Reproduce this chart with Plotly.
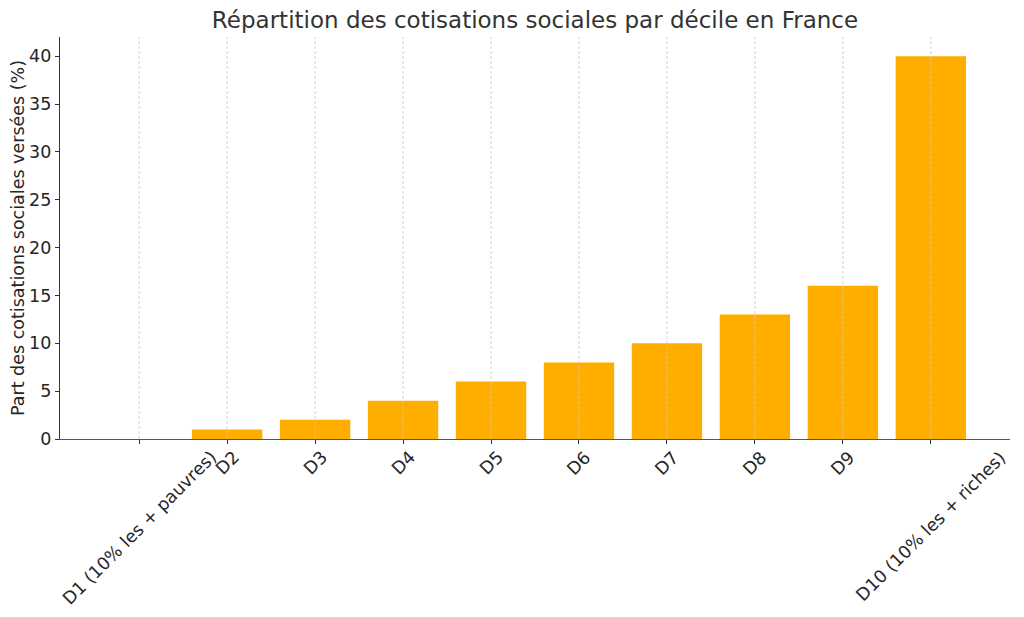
import plotly.graph_objects as go

categories = ["D1 (10% les + pauvres)", "D2", "D3", "D4", "D5", "D6", "D7", "D8", "D9", "D10 (10% les + riches)"]
values = [0, 1, 2, 4, 6, 8, 10, 13, 16, 40]
y_ticks = [0, 5, 10, 15, 20, 25, 30, 35, 40]

title = "Répartition des cotisations sociales par décile en France"
y_title = "Part des cotisations sociales versées (%)"

FONT = "DejaVu Sans"
TXT = "#262626"
FS = 17.5
idx = list(range(len(categories)))

fig = go.Figure()
fig.add_trace(go.Bar(
    x=idx, y=values, width=0.8,
    marker=dict(color="#FFAE00", line=dict(width=0)),
    hoverinfo="skip",
))

# dashed vertical gridlines drawn above bars (as in the reference)
for i in idx:
    fig.add_shape(type="line", xref="x", yref="paper", x0=i, x1=i, y0=0, y1=1,
                  line=dict(color="rgba(200,200,200,0.8)", width=1, dash="3px,2px"),
                  layer="above")

# centered rotated tick labels
for i, c in zip(idx, categories):
    fig.add_annotation(x=i, y=0, xref="x", yref="paper", text=c, showarrow=False,
                       textangle=-45, xanchor="center", yanchor="top", yshift=-5,
                       font=dict(family=FONT, size=FS, color=TXT))

# y-axis title
fig.add_annotation(x=0, y=0.5, xref="paper", yref="paper", text=y_title,
                   showarrow=False, textangle=-90, xanchor="center", yanchor="middle",
                   xshift=-42, font=dict(family=FONT, size=FS, color=TXT))

fig.update_layout(
    width=1024, height=617,
    margin=dict(l=60, r=14, t=37, b=178, autoexpand=False),
    paper_bgcolor="white", plot_bgcolor="white",
    showlegend=False,
    font=dict(family=FONT, size=FS, color=TXT),
    title=dict(text=title, x=0.5, xref="paper", xanchor="center",
               y=1 - 20 / 617, yref="container", yanchor="middle",
               font=dict(family=FONT, size=23, color="#333333")),
    bargap=0.2,
)
fig.update_xaxes(
    range=[-0.9, 9.9], tickvals=idx, showticklabels=False,
    showgrid=False, zeroline=False, automargin=False,
    showline=True, linecolor="#555555", linewidth=1.2,
    ticks="outside", ticklen=4, tickcolor="#333333", tickwidth=1,
)
fig.update_yaxes(
    range=[0, 42], tickvals=y_ticks, automargin=False,
    showgrid=False, zeroline=False,
    showline=True, linecolor="#333333", linewidth=1.2,
    ticks="outside", ticklen=4, tickcolor="#333333",
    tickfont=dict(family=FONT, size=FS, color=TXT),
)

fig.write_html("out.html", config={"displayModeBar": False},
               post_script="document.body.style.margin='0';")
